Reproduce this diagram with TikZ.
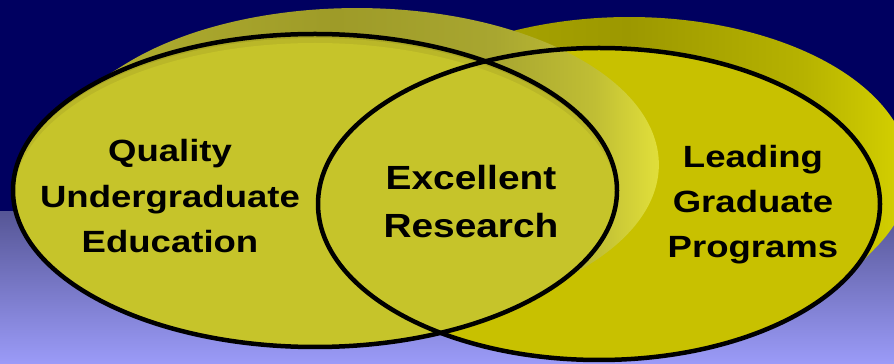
\documentclass[tikz,border=0pt]{standalone}
\usepackage{fontspec}
\setmainfont{Liberation Sans}
\usepackage{graphicx}
\definecolor{navybg}{RGB}{0,0,96}
\definecolor{bgtop}{RGB}{86,86,150}
\definecolor{bgmid}{RGB}{128,128,214}
\definecolor{bgbot}{RGB}{155,155,248}
\definecolor{lfront}{RGB}{198,196,42}
\definecolor{lshadeA}{RGB}{170,167,36}
\definecolor{lshadeB}{RGB}{186,183,40}
\definecolor{rfront}{RGB}{200,193,0}
\definecolor{lbA}{RGB}{178,176,48}
\definecolor{lbB}{RGB}{158,155,40}
\definecolor{lbC}{RGB}{168,166,48}
\definecolor{lbD}{RGB}{192,190,52}
\definecolor{lbE}{RGB}{222,220,58}
\definecolor{lbF}{RGB}{234,232,60}
\definecolor{rbA}{RGB}{166,162,0}
\definecolor{rbB}{RGB}{156,152,0}
\definecolor{rbC}{RGB}{182,178,0}
\definecolor{rbD}{RGB}{212,208,0}
\definecolor{rbE}{RGB}{226,222,0}
\pgfdeclarehorizontalshading{lback}{100bp}{color(0bp)=(lbA); color(31bp)=(lbA); color(50bp)=(lbB); color(61bp)=(lbC); color(68bp)=(lbD); color(72bp)=(lbE); color(75bp)=(lbF); color(100bp)=(lbF)}
\pgfdeclarehorizontalshading{rback}{100bp}{color(0bp)=(rbA); color(42bp)=(rbA); color(51bp)=(rbB); color(64bp)=(rbC); color(71.5bp)=(rbD); color(74bp)=(rbE); color(100bp)=(rbE)}
\newcommand\wide[2]{\scalebox{#1}[1]{#2}}
\begin{document}
\begin{tikzpicture}[x=1pt,y=1pt,
  lbl/.style={anchor=base, inner sep=0pt, text=black, font=\fontsize{30.7}{36}\selectfont\bfseries},
  midlbl/.style={anchor=base, inner sep=0pt, text=black, font=\fontsize{33.5}{40}\selectfont\bfseries},
  outline/.style={draw=black, line width=4.5pt}]
\useasboundingbox (0,0) rectangle (894,364);
\clip (0,0) rectangle (894,364);
% background
\fill[navybg] (0,151.5) rectangle (894,364);
\shade[top color=bgtop, middle color=bgmid, bottom color=bgbot] (0,0) rectangle (894,152);
% right disc: extruded back, then face
\shade[shading=rback] (351.5,233.8) arc[start angle=151.75, end angle=331.75, x radius=281, y radius=156]
  -- ++(30,31) arc[start angle=331.75, end angle=511.75, x radius=281, y radius=156] -- cycle;
\fill[rfront] (599,160) ellipse [x radius=281, y radius=156];
% left disc: extruded back, then face
\shade[shading=lback] (83.3,273.9) arc[start angle=140.07, end angle=320.07, x radius=302, y radius=156.5]
  -- ++(42,26) arc[start angle=320.07, end angle=500.07, x radius=302, y radius=156.5] -- cycle;
\begin{scope}
  \clip (315,173.5) ellipse [x radius=302, y radius=156.5];
  \fill[lshadeA] (315,173.5) ellipse [x radius=302, y radius=156.5];
  \fill[lshadeB] (315,169.5) ellipse [x radius=302, y radius=156.5];
  \fill[lfront] (315,164.5) ellipse [x radius=302, y radius=156.5];
\end{scope}
% outlines
\draw[outline] (599,160) ellipse [x radius=281, y radius=156];
\draw[outline] (315,173.5) ellipse [x radius=302, y radius=156.5];
% texts
\node[lbl] (q1) at (170,202) {\wide{1.19}{Quality}};
\node[lbl] (q2) at (170,156) {\wide{1.19}{Undergraduate}};
\node[lbl] (q3) at (170,111) {\wide{1.19}{Education}};
\node[midlbl] (e1) at (471,174) {\wide{1.16}{Excellent}};
\node[midlbl] (e2) at (471,126) {\wide{1.16}{Research}};
\node[lbl] (g1) at (753,196) {\wide{1.19}{Leading}};
\node[lbl] (g2) at (753,151) {\wide{1.19}{Graduate}};
\node[lbl] (g3) at (753,106) {\wide{1.19}{Programs}};
\end{tikzpicture}
\end{document}
